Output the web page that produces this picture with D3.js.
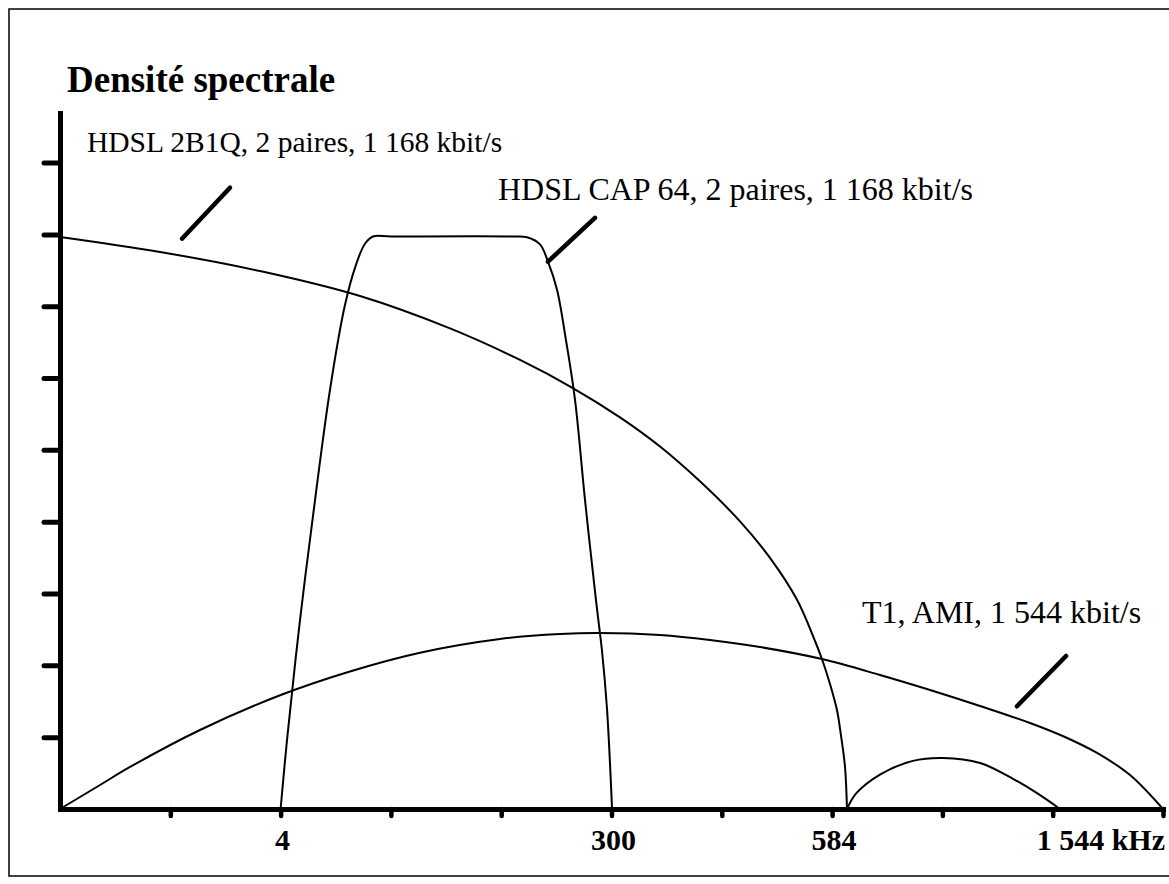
<!DOCTYPE html>
<html>
<head>
<meta charset="utf-8">
<script src="https://cdn.jsdelivr.net/npm/d3@7"></script>
<style>
  html, body { margin: 0; padding: 0; background: #fff; }
  svg { display: block; }
  text { font-family: "Liberation Serif", "Times New Roman", serif; fill: #000; }
</style>
</head>
<body>
<svg id="chart" width="1169" height="884"></svg>
<script>
// Graduations: x in frequency graduations, y in density graduations
const xGraduations = [1, 2, 3, 4, 5, 6, 7, 8, 9, 10];
const yGraduations = [1, 2, 3, 4, 5, 6, 7, 8, 9];
const xLabelAt = [2, 5, 7, 10];
const xLabelText = ["4", "300", "584", "1 544 kHz"];

// Spectral density curves [graduation, density]
const hdsl2b1qMainLobe = [
  [0, 7.963], [0.907, 7.755], [1.813, 7.490], [2.720, 7.142], [3.536, 6.691],
  [4.171, 6.252], [4.642, 5.868], [5.077, 5.453], [5.440, 5.047], [5.802, 4.562],
  [6.165, 4.005], [6.437, 3.496], [6.682, 2.912], [6.845, 2.339], [6.908, 2.088],
  [6.981, 1.740], [7.044, 1.378], [7.080, 1.030], [7.117, 0.585], [7.135, 0]
];
const hdsl2b1qSideLobe = [
  [7.135, 0], [7.22, 0.22], [7.434, 0.48], [7.733, 0.67], [8.005, 0.71],
  [8.341, 0.64], [8.640, 0.42], [8.858, 0.22], [9.066, 0]
];
const hdslCap64 = [
  [2.0, 0], [2.058, 0.96], [2.176, 2.63], [2.312, 4.30], [2.448, 5.84],
  [2.584, 7.02], [2.684, 7.58], [2.765, 7.87], [2.838, 7.97], [3.0, 7.97],
  [4.1, 7.97], [4.234, 7.96], [4.352, 7.86], [4.424, 7.62], [4.506, 7.23],
  [4.587, 6.53], [4.669, 5.70], [4.760, 4.30], [4.859, 2.91], [4.914, 2.20],
  [4.959, 1.40], [5.005, 0]
];
const t1Ami = [
  [0, 0], [0.363, 0.334], [0.635, 0.585], [1.269, 1.10], [2.013, 1.594],
  [2.629, 1.915], [3.264, 2.176], [3.989, 2.367], [4.533, 2.436], [4.896, 2.450],
  [5.440, 2.422], [5.893, 2.353], [6.346, 2.255], [6.908, 2.088], [7.434, 1.866],
  [7.888, 1.657], [8.341, 1.434], [8.794, 1.197], [9.111, 1.002], [9.402, 0.780],
  [9.701, 0.473], [10.0, 0]
];

// Curve captions and their pointer strokes
const captionText = [
  "HDSL 2B1Q, 2 paires, 1 168 kbit/s",
  "HDSL CAP 64, 2 paires, 1 168 kbit/s",
  "T1, AMI, 1 544 kbit/s"
];
const captionAt = [[0.245, 9.15], [3.971, 8.48], [7.271, 2.59]];
const captionSize = [29.5, 32, 32];
const pointerStrokes = [
  [[1.106, 7.94], [1.541, 8.65]],
  [[4.424, 7.62], [4.850, 8.23]],
  [[8.676, 1.43], [9.121, 2.13]]
];

const svg = d3.select("#chart");

// Frame
svg.append("rect")
  .attr("x", 9).attr("y", 9)
  .attr("width", 1175).attr("height", 867)
  .attr("fill", "none").attr("stroke", "#000").attr("stroke-width", 1.5);

// Title
svg.append("text")
  .attr("x", 67).attr("y", 92)
  .attr("font-size", 37).attr("font-weight", "bold")
  .text("Densité spectrale");

const x = d3.scaleLinear().domain([0, 10]).range([60, 1163]);
const y = d3.scaleLinear().domain([0, 9.69]).range([809, 113]);

// Axes
const yAxis = svg.append("g")
  .attr("transform", `translate(${x(0)},0)`)
  .call(d3.axisLeft(y).tickValues(yGraduations).tickSize(16).tickSizeOuter(0).tickFormat(""));
yAxis.select(".domain").attr("stroke-width", 5).attr("stroke-linecap", "square");
yAxis.selectAll(".tick line").attr("stroke-width", 5).attr("stroke-linecap", "round");

const xAxis = svg.append("g")
  .attr("transform", `translate(0,${y(0)})`)
  .call(d3.axisBottom(x).tickValues(xGraduations).tickSize(7).tickSizeOuter(0).tickFormat(""));
xAxis.select(".domain").attr("stroke-width", 5).attr("stroke-linecap", "square");
xAxis.selectAll(".tick line").attr("stroke-width", 4.5).attr("stroke-linecap", "round");

svg.append("g").selectAll("text")
  .data(xLabelAt)
  .join("text")
  .attr("x", d => x(d) + 2)
  .attr("y", y(0) + 41)
  .attr("text-anchor", (d, i) => i === xLabelAt.length - 1 ? "end" : "middle")
  .attr("font-size", 30).attr("font-weight", "bold")
  .text((d, i) => xLabelText[i]);

// Curves
const line = d3.line()
  .x(d => x(d[0]))
  .y(d => y(d[1]))
  .curve(d3.curveCatmullRom.alpha(0.5));

svg.append("g")
  .attr("fill", "none").attr("stroke", "#000").attr("stroke-width", 2)
  .selectAll("path")
  .data([hdsl2b1qMainLobe, hdsl2b1qSideLobe, hdslCap64, t1Ami])
  .join("path")
  .attr("d", line);

// Pointer strokes
svg.append("g")
  .attr("stroke", "#000").attr("stroke-width", 4.5).attr("stroke-linecap", "round")
  .selectAll("line")
  .data(pointerStrokes)
  .join("line")
  .attr("x1", d => x(d[0][0])).attr("y1", d => y(d[0][1]))
  .attr("x2", d => x(d[1][0])).attr("y2", d => y(d[1][1]));

// Captions
svg.append("g").selectAll("text")
  .data(captionText)
  .join("text")
  .attr("x", (d, i) => x(captionAt[i][0]))
  .attr("y", (d, i) => y(captionAt[i][1]))
  .attr("font-size", (d, i) => captionSize[i])
  .text(d => d);
</script>
</body>
</html>
